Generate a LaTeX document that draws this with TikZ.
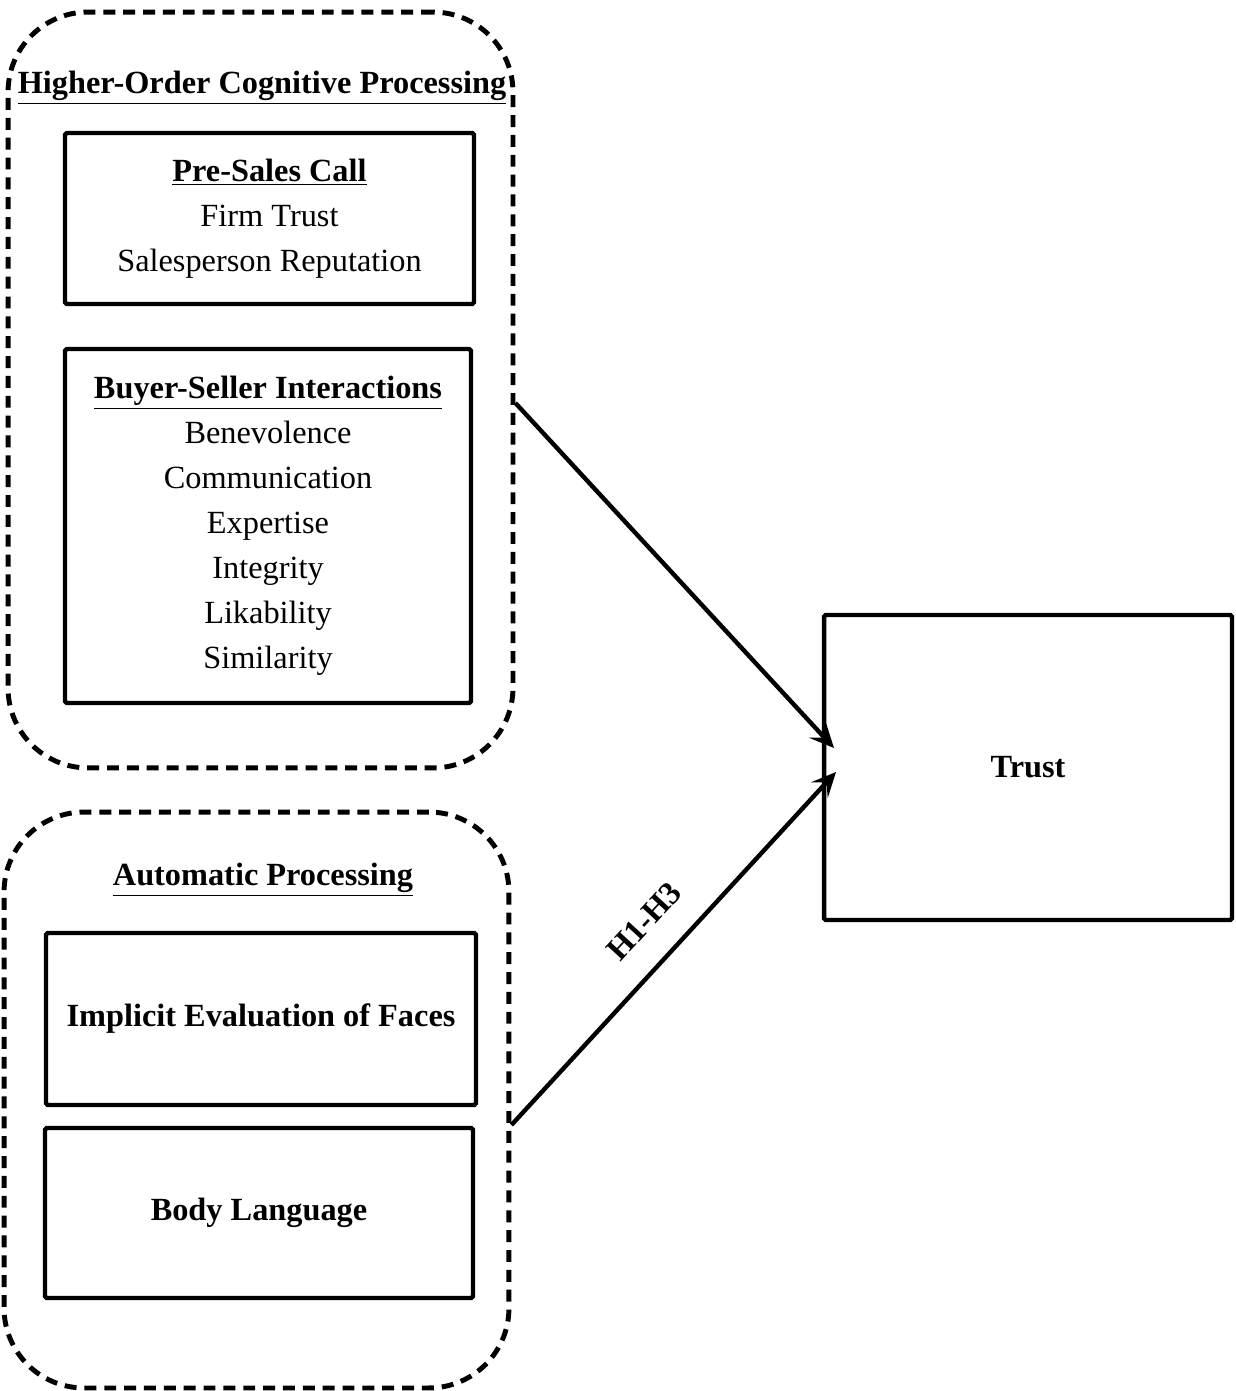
\documentclass[tikz,border=0pt]{standalone}
\usepackage{fontspec}
\setmainfont{Liberation Serif}
\usetikzlibrary{arrows.meta}
\usetikzlibrary{positioning}

\begin{document}
\begin{tikzpicture}[x=.02cm, y=-.02cm,
  font=\fontsize{18.4}{25.6}\selectfont,
  box/.style={draw, line width=2.5pt, rounded corners=1pt, align=center, inner sep=0pt},
  groupbox/.style={draw, line width=2.8pt, dash pattern=on 6.8pt off 4.5pt, rounded corners=1.6cm, inner sep=0pt},
  link/.style={line width=2.5pt, ->, >={Stealth[length=14pt,width=13pt,inset=6pt]}}]
\useasboundingbox (0,0) rectangle (1235,1391);
% groups
\node[groupbox, minimum width=10.1cm, minimum height=15.12cm] (hoc) at (260.5,390) {};
\node[groupbox, minimum width=10.1cm, minimum height=11.52cm] (ap) at (256.5,1100) {};
\node (hoctitle) at (262,88) {\underline{\textbf{Higher-Order Cognitive Processing}}};
\node (aptitle) at (263,880) {\underline{\textbf{Automatic Processing}}};
% boxes
\node[box, minimum width=8.18cm, minimum height=3.42cm] (presales) at (269.5,218.5)
  {\underline{\textbf{Pre-Sales Call}}\\ Firm Trust\\ Salesperson Reputation};
\node[box, minimum width=8.12cm, minimum height=7.08cm] (bsi) at (268,526)
  {\underline{\textbf{Buyer-Seller Interactions}}\\ Benevolence\\ Communication\\ Expertise\\ Integrity\\ Likability\\ Similarity};
\node[box, minimum width=8.6cm, minimum height=3.44cm] (faces) at (261,1019) {\textbf{Implicit Evaluation of Faces}};
\node[box, minimum width=8.56cm, minimum height=3.4cm] (body) at (259,1213) {\textbf{Body Language}};
\node[box, minimum width=8.16cm, minimum height=6.1cm] (trust) at (1028,767.5) {\textbf{Trust}};
% arrows
\coordinate (in1) at (834,748);
\coordinate (in2) at (836,772);
\draw[link] ([yshift=-.26cm]hoc.east) -- (in1);
\draw[link] ([yshift=-.5cm]ap.east) -- node[pos=.5, sloped, above=12pt, font=\fontsize{18.4}{20}\selectfont\bfseries] {H1-H3} (in2);
\end{tikzpicture}
\end{document}
